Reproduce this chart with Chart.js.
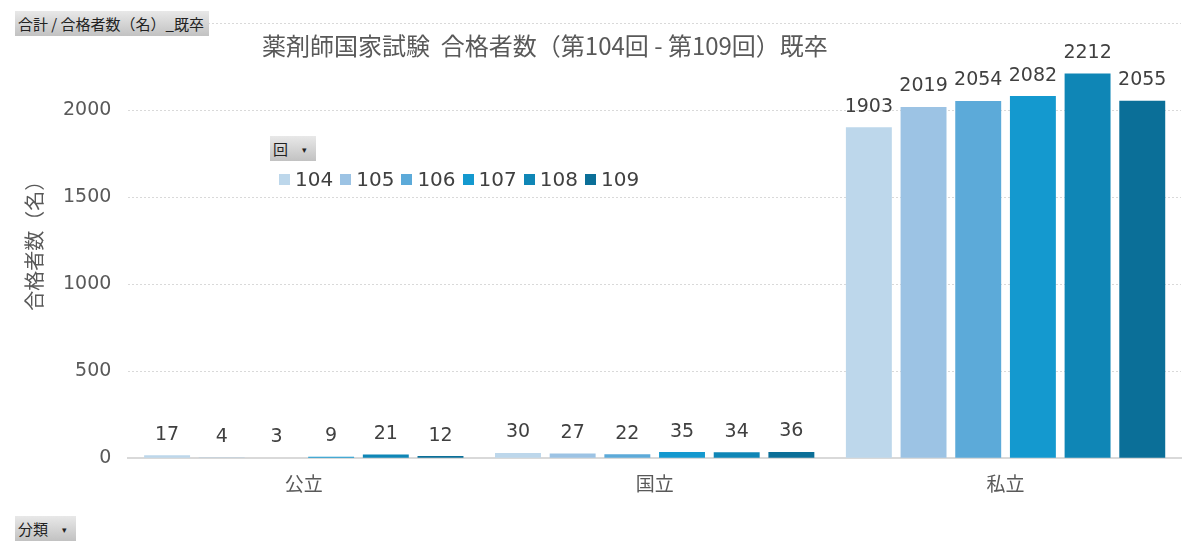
<!DOCTYPE html>
<html>
<head>
<meta charset="utf-8">
<script src="https://cdn.jsdelivr.net/npm/chart.js@4"></script>
<style>
	html, body { margin: 0; padding: 0; background: #fff; overflow: hidden; }
	#wrap { position: relative; width: 1200px; height: 552px; overflow: hidden; font-family: "Noto Sans CJK JP", "Noto Sans", sans-serif; }
	#chart-main { position: absolute; left: 0; top: -5px; }
	.btn {
		position: absolute; height: 25px; line-height: 25px; font-size: 15px; color: #222;
		background: linear-gradient(#e8e8e8, #c2c2c2); padding: 0 3px; box-sizing: border-box;
		white-space: nowrap;
	}
	.btn .arr { font-size: 9px; margin-left: 14px; vertical-align: 2px; }
	#title { position: absolute; left: 0; width: 1090px; top: 27px; text-align: center; font-size: 24px; color: #595959; white-space: pre; }
	#legend { position: absolute; left: 279px; top: 167px; font-size: 20px; color: #404040; display: flex; font-family: "DejaVu Sans", sans-serif; }
	#legend span.item { margin-right: 7px; display: flex; align-items: center; }
	#legend span.box { display: inline-block; width: 11px; height: 11px; margin-right: 5px; }
</style>
</head>
<body>
<div id="wrap">
	<canvas id="chart-main" width="1200" height="557"></canvas>
	<div id="title">薬剤師国家試験  合格者数（第104回 - 第109回）既卒</div>
	<div class="btn" style="left:15px; top:11px; width:194px;">合計 / 合格者数（名）_既卒</div>
	<div class="btn" style="left:270px; top:136px; width:46px;">回<span class="arr">▾</span></div>
	<div class="btn" style="left:15px; top:516px; width:61px;">分類<span class="arr">▾</span></div>
	<div id="legend"></div>
</div>
<script>
const categories = ['公立', '国立', '私立'];
const rounds = ['104', '105', '106', '107', '108', '109'];
const values104 = [17, 30, 1903];
const values105 = [4, 27, 2019];
const values106 = [3, 22, 2054];
const values107 = [9, 35, 2082];
const values108 = [21, 34, 2212];
const values109 = [12, 36, 2055];
const colors = ['#bdd7eb', '#9cc3e4', '#5caad9', '#1499cf', '#0f86b6', '#0b6f98'];
const yTicks = [0, 500, 1000, 1500, 2000, 2500];
const yMax = 2500;

const numFont = '"DejaVu Sans", "Noto Sans CJK JP", sans-serif';
const jpFont = '"Noto Sans CJK JP", sans-serif';

const allValues = [values104, values105, values106, values107, values108, values109];
const datasets = rounds.map((r, i) => ({
	label: r,
	data: allValues[i],
	backgroundColor: colors[i],
	categoryPercentage: 0.935,
	barPercentage: 0.84,
}));

// value labels above each bar
const valueLabels = {
	id: 'valueLabels',
	afterDatasetsDraw(chart) {
		const ctx = chart.ctx;
		ctx.save();
		ctx.font = '19px ' + numFont;
		ctx.fillStyle = '#404040';
		ctx.textAlign = 'center';
		ctx.textBaseline = 'bottom';
		chart.data.datasets.forEach((ds, i) => {
			chart.getDatasetMeta(i).data.forEach((bar, j) => {
				ctx.fillText(String(ds.data[j]), bar.x, bar.y - 11);
			});
		});
		ctx.restore();
	}
};

const config = {
	type: 'bar',
	data: {
		labels: categories,
		datasets: datasets,
	},
	options: {
		responsive: false,
		animation: false,
		layout: {
			padding: { left: 22, right: 19, top: 2, bottom: 43 }
		},
		plugins: {
			legend: { display: false },
			title: { display: false },
			tooltip: { enabled: false },
		},
		scales: {
			x: {
				grid: { display: false, drawTicks: false },
				border: { color: '#d9d9d9', width: 2 },
				ticks: {
					color: '#595959',
					font: { size: 19, family: jpFont },
					padding: 14,
				},
			},
			y: {
				min: 0,
				max: yMax,
				afterBuildTicks(axis) {
					axis.ticks = yTicks.map(v => ({ value: v }));
				},
				grid: {
					color: '#d9d9d9',
					drawTicks: false,
					lineWidth: 1,
				},
				border: { display: false, dash: [2, 2] },
				ticks: {
					color: '#595959',
					font: { size: 19, family: numFont },
					padding: 17,
					// the top label sits behind the field button in the original
					callback: v => (v === yMax ? '' : String(v)),
				},
				title: {
					display: true,
					text: '合格者数（名）',
					color: '#595959',
					font: { size: 20, family: jpFont },
					padding: { top: 0, bottom: 0 },
				},
			}
		}
	},
	plugins: [valueLabels],
};

document.addEventListener('DOMContentLoaded', () => {
	const ctx = document.getElementById('chart-main');
	const chartMain = new Chart(ctx, config);

	const legend = document.getElementById('legend');
	rounds.forEach((r, i) => {
		const item = document.createElement('span');
		item.className = 'item';
		item.innerHTML = '<span class="box" style="background:' + colors[i] + '"></span>' + r;
		legend.appendChild(item);
	});
});
</script>
</body>
</html>
